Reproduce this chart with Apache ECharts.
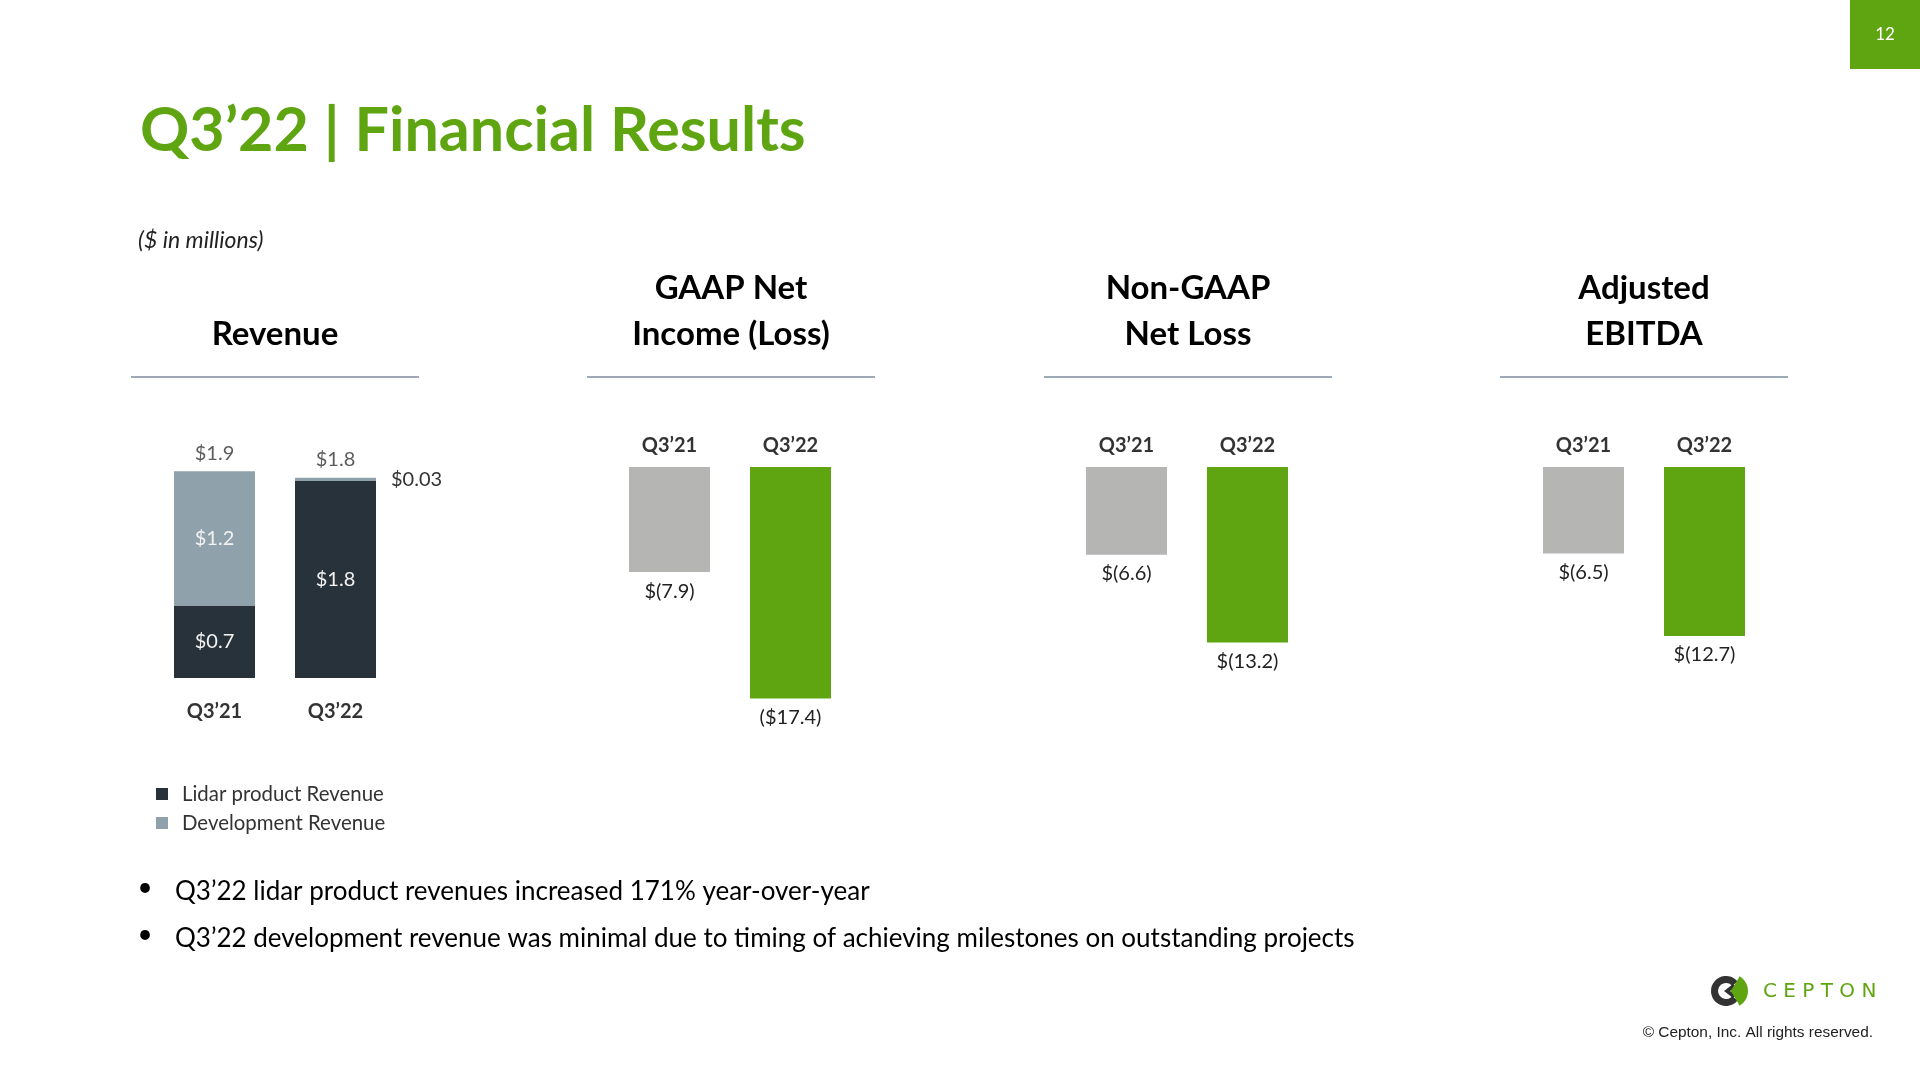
<!DOCTYPE html>
<html>
<head>
<meta charset="utf-8">
<script src="https://cdn.jsdelivr.net/npm/echarts@6/dist/echarts.min.js"></script>
<style>
html,body{margin:0;padding:0;background:#fff;}
#chart{width:1920px;height:1080px;}
</style>
</head>
<body>
<div id="chart"></div>
<script>
// ---------- data ----------
const categories = ['Q3’21', 'Q3’22'];
const lidarRevenue = [0.66, 1.79];
const devRevenue = [1.22, 0.03];
const revenueTotals = [1.88, 1.82];
const lidarLabels = ['$0.7', '$1.8'];
const devLabels = ['$1.2', '$0.03'];
const totalLabels = ['$1.9', '$1.8'];
const gaapNetIncome = [-7.9, -17.4];
const gaapLabels = ['$(7.9)', '($17.4)'];
const nonGaapNetLoss = [-6.6, -13.2];
const nonGaapLabels = ['$(6.6)', '$(13.2)'];
const adjEbitda = [-6.5, -12.7];
const ebitdaLabels = ['$(6.5)', '$(12.7)'];
const sectionTitles = [['Revenue'], ['GAAP Net', 'Income (Loss)'], ['Non-GAAP', 'Net Loss'], ['Adjusted', 'EBITDA']];
const legendNames = ['Lidar product Revenue', 'Development Revenue'];
const bullets = [
  'Q3’22 lidar product revenues increased 171% year-over-year',
  'Q3’22 development revenue was minimal due to timing of achieving milestones on outstanding projects'
];

// ---------- style ----------
const FONT = 'Lato, "Open Sans", sans-serif';
const GREEN = '#5fa512';
const GRAY_BAR = '#b5b5b4';
const DARK = '#28323a';
const SLATE = '#8fa1aa';
const TXT = '#333333';

const chart = echarts.init(document.getElementById('chart'), null, {renderer: 'canvas'});

const sectionCenters = [275, 731, 1188, 1644];
const graphics = [];
// page number box
graphics.push({type: 'rect', shape: {x: 1850, y: 0, width: 70, height: 69}, style: {fill: GREEN}});
graphics.push({type: 'text', x: 1885, y: 35, style: {text: '12', fill: '#fff', font: '17px ' + FONT, textAlign: 'center', textVerticalAlign: 'middle'}});
// title
graphics.push({type: 'text', x: 140, y: 131, style: {text: 'Q3’22 | Financial Results', fill: GREEN, font: 'bold 61px ' + FONT, textAlign: 'left', textVerticalAlign: 'middle'}});
graphics.push({type: 'text', x: 138, y: 241, style: {text: '($ in millions)', fill: '#222', font: 'italic 23px ' + FONT, textAlign: 'left', textVerticalAlign: 'middle'}});
// section headers and rules
sectionTitles.forEach((lines, i) => {
  const cx = sectionCenters[i];
  const n = lines.length;
  lines.forEach((t, j) => {
    const y = 334 - (n - 1 - j) * 46;
    graphics.push({type: 'text', x: cx, y: y, style: {text: t, fill: '#000', font: 'bold 33px ' + FONT, textAlign: 'center', textVerticalAlign: 'middle'}});
  });
  graphics.push({type: 'line', shape: {x1: cx - 144, y1: 377, x2: cx + 144, y2: 377}, style: {stroke: '#7f8ca0', lineWidth: 1.5}});
});
// bullets
bullets.forEach((b, i) => {
  const y = 892 + i * 47;
  graphics.push({type: 'text', x: 145, y: y - 4, style: {text: '•', fill: '#000', font: '26px ' + FONT, textAlign: 'center', textVerticalAlign: 'middle'}});
  graphics.push({type: 'text', x: 175, y: y, style: {text: b, fill: '#000', font: '26px ' + FONT, textAlign: 'left', textVerticalAlign: 'middle'}});
});
// logo
graphics.push({type: 'sector', shape: {cx: 1726, cy: 991, r: 15, r0: 8, startAngle: Math.PI * 0.22, endAngle: Math.PI * 1.78}, style: {fill: '#333'}});
graphics.push({type: 'polygon', shape: {points: [[1733, 984], [1724, 991], [1733, 998], [1736, 995], [1730, 991], [1736, 987]]}, style: {fill: '#333'}});
graphics.push({type: 'sector', shape: {cx: 1731, cy: 991, r: 17, r0: 0, startAngle: -Math.PI * 0.33, endAngle: Math.PI * 0.33}, style: {fill: GREEN}});
graphics.push({type: 'polygon', shape: {points: [[1736, 983], [1731, 991], [1736, 999], [1746, 999], [1746, 983]]}, style: {fill: GREEN}});
graphics.push({type: 'text', x: 1763, y: 992, style: {text: 'C E P T O N', fill: GREEN, font: '20px "DejaVu Sans", sans-serif', textAlign: 'left', textVerticalAlign: 'middle'}});
graphics.push({type: 'text', x: 1873, y: 1033, style: {text: '© Cepton, Inc. All rights reserved.', fill: '#222', font: '15.4px "Liberation Sans", Arial, sans-serif', textAlign: 'right', textVerticalAlign: 'middle'}});

// ---------- grids ----------
const grids = [
  {left: 154, top: 458, width: 242, height: 220},
  {left: 609, top: 467, width: 242, height: 266},
  {left: 1066, top: 467, width: 242, height: 266},
  {left: 1523, top: 467, width: 242, height: 266}
];
const axisLabelStyle = {color: TXT, fontFamily: FONT, fontWeight: 'bold', fontSize: 20};
const xAxes = grids.map((g, i) => ({
  type: 'category', gridIndex: i, data: categories,
  position: i === 0 ? 'bottom' : 'top',
  axisLine: {show: false}, axisTick: {show: false},
  axisLabel: Object.assign({margin: i === 0 ? 24 : 11.5}, axisLabelStyle)
}));
const yAxes = grids.map((g, i) => (i === 0
  ? {type: 'value', gridIndex: i, min: 0, max: 2, show: false}
  : {type: 'value', gridIndex: i, min: -20, max: 0, show: false}));

const valLabel = {fontFamily: FONT, fontSize: 20};
function negSeries(idx, values, labels, colors) {
  return {
    type: 'bar', xAxisIndex: idx, yAxisIndex: idx, barWidth: 81,
    data: values.map((v, k) => ({value: v, itemStyle: {color: colors[k]}})),
    label: Object.assign({show: true, position: 'bottom', distance: 9, color: '#222',
      formatter: p => labels[p.dataIndex]}, valLabel),
    silent: true
  };
}

const option = {
  animation: false,
  backgroundColor: '#fff',
  grid: grids,
  xAxis: xAxes,
  yAxis: yAxes,
  legend: {
    data: legendNames, orient: 'vertical', left: 151, top: 779,
    itemWidth: 12, itemHeight: 12, itemGap: 9, icon: 'rect',
    textStyle: {color: TXT, fontFamily: FONT, fontSize: 20.4, padding: [0, 0, 0, 9]},
    selectedMode: false
  },
  series: [
    {
      name: legendNames[0], type: 'bar', stack: 'rev', xAxisIndex: 0, yAxisIndex: 0, barWidth: 81,
      itemStyle: {color: DARK}, data: lidarRevenue,
      label: Object.assign({show: true, position: 'inside', color: '#f2f2f2', formatter: p => lidarLabels[p.dataIndex]}, valLabel)
    },
    {
      name: legendNames[1], type: 'bar', stack: 'rev', xAxisIndex: 0, yAxisIndex: 0, barWidth: 81,
      itemStyle: {color: SLATE},
      data: devRevenue.map((v, k) => ({
        value: v,
        label: k === 0
          ? Object.assign({show: true, position: 'inside', color: '#f2f2f2', formatter: devLabels[k]}, valLabel)
          : Object.assign({show: true, position: 'right', distance: 15, color: TXT, formatter: devLabels[k]}, valLabel)
      }))
    },
    {
      name: 'Total', type: 'scatter', xAxisIndex: 0, yAxisIndex: 0, symbolSize: 0,
      data: revenueTotals,
      label: Object.assign({show: true, position: 'top', distance: 8, color: TXT, formatter: p => totalLabels[p.dataIndex]}, valLabel),
      silent: true
    },
    negSeries(1, gaapNetIncome, gaapLabels, [GRAY_BAR, GREEN]),
    negSeries(2, nonGaapNetLoss, nonGaapLabels, [GRAY_BAR, GREEN]),
    negSeries(3, adjEbitda, ebitdaLabels, [GRAY_BAR, GREEN])
  ],
  graphic: {elements: graphics}
};
chart.setOption(option);
</script>
</body>
</html>
